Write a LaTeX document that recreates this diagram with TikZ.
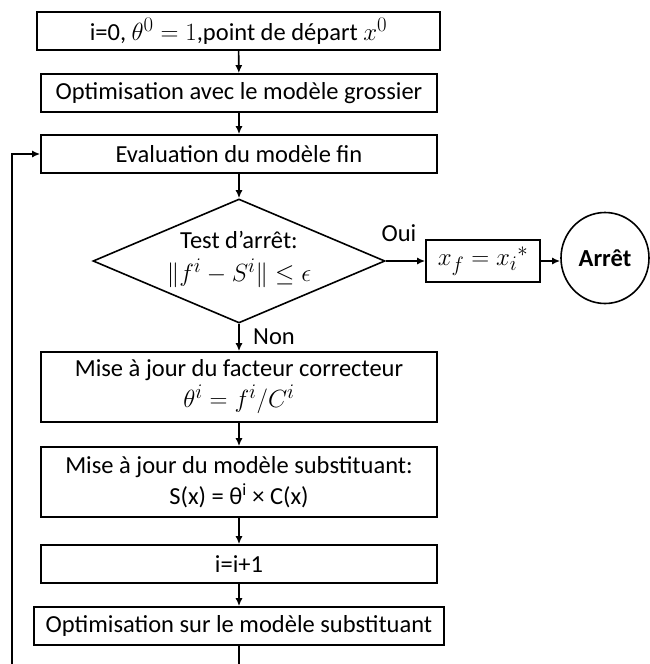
\documentclass[tikz,border=0pt]{standalone}
\usepackage{fontspec}
\setmainfont{Carlito}
\usetikzlibrary{arrows.meta,shapes.geometric}
\newcommand{\mymath}[1]{{\fontsize{28}{30}\selectfont$#1$}}
\tikzset{
  box/.style={draw, line width=1.6pt, rectangle, inner sep=0pt, align=center, minimum width=396pt},
  decision/.style={draw, line width=1.6pt, diamond, inner sep=0pt, minimum width=292pt, minimum height=124pt},
  term/.style={draw, line width=1.6pt, ellipse, inner sep=0pt, minimum width=88pt, minimum height=91pt},
  arr/.style={line width=1.6pt, -{Latex[length=8pt,width=7pt]}},
  lbl/.style={inner sep=0pt}
}
\begin{document}
\begin{tikzpicture}[x=1pt,y=-1pt, font=\fontsize{24.5}{29}\selectfont]
\useasboundingbox (0,0) rectangle (650,664);
\node[box, minimum width=403pt, minimum height=38pt] (b1) at (238.5,31) {i=0, \mymath{\theta^0=1},point de départ \mymath{x^0}};
\node[box, minimum height=38pt] (b2) at (239,93) {Optimisation avec le modèle grossier};
\node[box, minimum height=38pt] (b3) at (239,154) {Evaluation du modèle fin};
\node[decision] (d) at (239,261) {};
\node[lbl, align=center] (dt) at (239,259) {Test d’arrêt:\\[4pt] \mymath{\Vert f^i - S^i\Vert \le \epsilon}};
\node[box, minimum width=114pt, minimum height=42pt] (xf) at (483,261) {\mymath{x_f = {x_i}^*}};
\node[term] (e) at (605,258) {\textbf{Arrêt}};
\node[box, minimum height=70pt] (f1) at (239,387) {Mise à jour du facteur correcteur\\[2pt] \mymath{\theta^i = f^i/C^i}};
\node[box, minimum height=70pt] (f2) at (239,482) {Mise à jour du modèle substituant:\\[2pt] S(x) = θ\textsuperscript{i} × C(x)};
\node[box, minimum height=38pt] (f3) at (239,564) {i=i+1};
\node[box, minimum width=410pt, minimum height=38pt] (f4) at (239,626) {Optimisation sur le modèle substituant};
\node[lbl] (oui) at (399,233) {Oui};
\node[lbl] (non) at (274,337) {Non};
\coordinate (lb) at (12,672);
\draw[arr] (b1) -- (b2);
\draw[arr] (b2) -- (b3);
\draw[arr] (b3) -- (d.north);
\draw[arr] (d.east) -- (xf.west);
\draw[arr] (xf.east) -- (e.west |- xf.east);
\draw[arr] (d.south) -- (f1.north);
\draw[arr] (f1) -- (f2);
\draw[arr] (f2) -- (f3);
\draw[arr] (f3) -- (f4);
\draw[arr] (f4.south) |- (lb) |- (b3.west);
\end{tikzpicture}
\end{document}
